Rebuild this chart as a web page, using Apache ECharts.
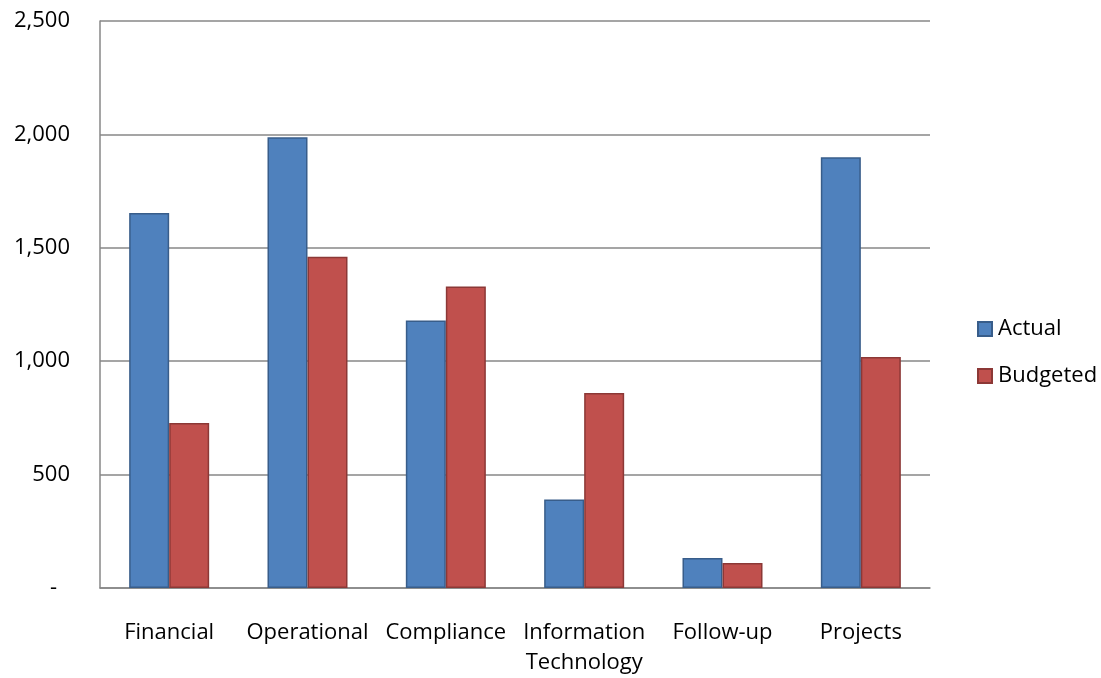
<!DOCTYPE html>
<html>
<head>
<meta charset="utf-8">
<script src="https://cdn.jsdelivr.net/npm/echarts@6/dist/echarts.min.js"></script>
<style>
  html, body { margin: 0; padding: 0; background: #fff; overflow: hidden; }
  #chart { width: 1101px; height: 678px; }
</style>
</head>
<body>
<div id="chart"></div>
<script>
// Audit hours by area: actual vs budgeted
const categories = ['Financial', 'Operational', 'Compliance', 'Information\nTechnology', 'Follow-up', 'Projects'];
const actual = [1653, 1987, 1180, 390, 132, 1899];
const budgeted = [728, 1461, 1329, 860, 110, 1018];
const yTicks = [0, 500, 1000, 1500, 2000, 2500];

const FONT = 'Open Sans';
const FS = 22;

function fmtTick(v) {
  if (v === 0) return '{dash|-}';
  return v.toLocaleString('en-US');
}

const chart = echarts.init(document.getElementById('chart'), null, { renderer: 'canvas' });
chart.setOption({
  animation: false,
  textStyle: { fontFamily: FONT },
  grid: { left: 100, right: 171, top: 21, bottom: 87, containLabel: false },
  legend: {
    orient: 'vertical',
    left: 972,
    top: 313,
    itemWidth: 14,
    itemHeight: 14,
    itemGap: 25,
    icon: 'rect',
    textStyle: { fontFamily: FONT, fontSize: FS, color: '#000', padding: [0, 0, 0, 1] },
    data: ['Actual', 'Budgeted']
  },
  xAxis: {
    type: 'category',
    data: categories,
    axisLine: { show: true, lineStyle: { color: '#878787', width: 1.5 } },
    axisTick: { show: false },
    axisLabel: {
      interval: 0,
      margin: 30,
      color: '#000',
      fontFamily: FONT,
      fontSize: FS,
      lineHeight: 30
    }
  },
  yAxis: {
    type: 'value',
    min: yTicks[0],
    max: yTicks[yTicks.length - 1],
    interval: 500,
    axisLine: { show: true, lineStyle: { color: '#878787', width: 1.5 } },
    axisTick: { show: false },
    splitLine: { show: true, lineStyle: { color: '#878787', width: 1.5 } },
    axisLabel: {
      margin: 30,
      color: '#000',
      fontFamily: FONT,
      fontSize: FS,
      formatter: fmtTick,
      rich: { dash: { fontFamily: FONT, fontSize: FS, color: '#000', padding: [0, 13, 0, 0] } }
    }
  },
  series: [
    {
      name: 'Actual',
      type: 'bar',
      data: actual,
      barWidth: 40,
      barGap: '0%',
      itemStyle: { color: '#4F81BD', borderColor: '#385D8A', borderWidth: 1.5 }
    },
    {
      name: 'Budgeted',
      type: 'bar',
      data: budgeted,
      barWidth: 40,
      barGap: '0%',
      itemStyle: { color: '#C0504D', borderColor: '#8C3836', borderWidth: 1.5 }
    }
  ]
});
</script>
</body>
</html>
